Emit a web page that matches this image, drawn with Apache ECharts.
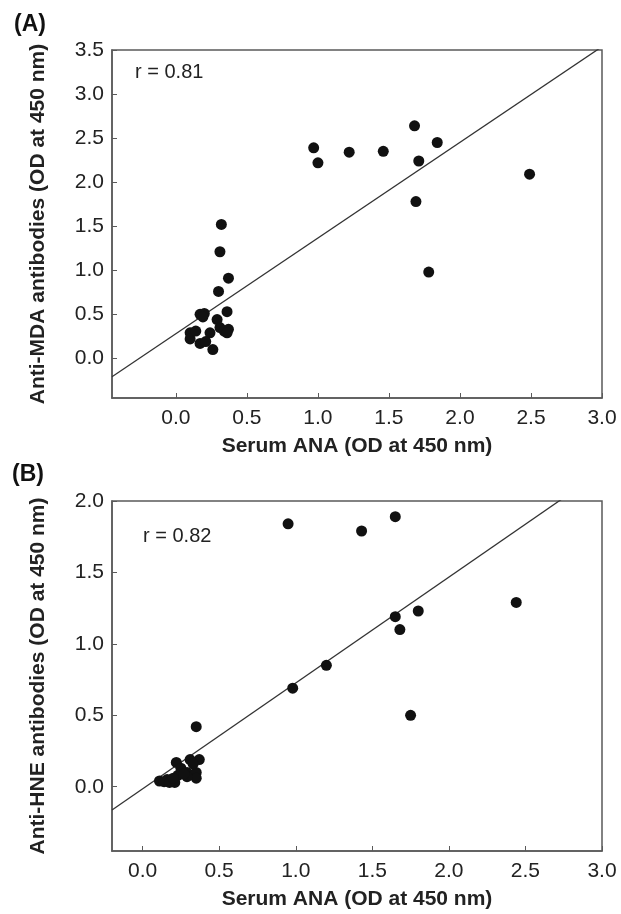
<!DOCTYPE html>
<html>
<head>
<meta charset="utf-8">
<script src="https://cdn.jsdelivr.net/npm/echarts@6/dist/echarts.min.js"></script>
<style>
  html, body { margin: 0; padding: 0; background: #fff; }
  #main { width: 621px; height: 914px; }
</style>
</head>
<body>
<div id="main"></div>
<script>
// panel A: serum ANA vs anti-MDA
var anaA = [1.68, 0.97, 1.00, 1.22, 1.46, 1.71, 1.84, 2.49, 1.69, 1.78,
            0.32, 0.31, 0.37, 0.30, 0.36,
            0.17, 0.20, 0.19, 0.29, 0.31, 0.34, 0.37, 0.36, 0.10, 0.10, 0.14, 0.24, 0.17, 0.21, 0.26];
var mda  = [2.64, 2.39, 2.22, 2.34, 2.35, 2.24, 2.45, 2.09, 1.78, 0.98,
            1.52, 1.21, 0.91, 0.76, 0.53,
            0.50, 0.51, 0.47, 0.44, 0.35, 0.31, 0.33, 0.29, 0.29, 0.22, 0.31, 0.29, 0.17, 0.19, 0.10];
// panel B: serum ANA vs anti-HNE
var anaB = [0.95, 1.43, 1.65, 2.44, 1.65, 1.80, 1.68, 1.20, 0.98, 1.75, 0.35,
            0.37, 0.31, 0.22, 0.25, 0.29, 0.35, 0.35, 0.29, 0.23, 0.19, 0.16, 0.11, 0.14, 0.21, 0.175, 0.33, 0.27, 0.20];
var hne  = [1.84, 1.79, 1.89, 1.29, 1.19, 1.23, 1.10, 0.85, 0.69, 0.50, 0.42,
            0.19, 0.19, 0.17, 0.13, 0.10, 0.10, 0.06, 0.07, 0.08, 0.05, 0.05, 0.04, 0.035, 0.03, 0.03, 0.16, 0.09, 0.06];
// fitted lines (intercept, slope)
var fitA = [0.28, 1.086];
var fitB = [-0.015, 0.741];

var ticksXA = [0, 0.5, 1.0, 1.5, 2.0, 2.5, 3.0];
var ticksYA = [0, 0.5, 1.0, 1.5, 2.0, 2.5, 3.0, 3.5];
var ticksXB = [0, 0.5, 1.0, 1.5, 2.0, 2.5, 3.0];
var ticksYB = [0, 0.5, 1.0, 1.5, 2.0];

function pairs(xs, ys) {
  return xs.map(function (x, i) { return [x, ys[i]]; });
}
function fitLine(fit, x0, x1) {
  return [[x0, fit[0] + fit[1] * x0], [x1, fit[0] + fit[1] * x1]];
}

var font = 'Liberation Sans, Arial, sans-serif';
var axisCol = '#5a5a5a';

function xAxis(idx, min, max, ticks) {
  return {
    type: 'value', gridIndex: idx, min: min, max: max,
    name: 'Serum ANA (OD at 450 nm)', nameLocation: 'middle', nameGap: 38,
    nameTextStyle: { fontFamily: font, fontSize: 21, fontWeight: 'bold', color: '#222' },
    axisLine: { show: true, onZero: false, lineStyle: { color: axisCol, width: 1.5 } },
    axisTick: { show: true, inside: true, length: 5, customValues: ticks, lineStyle: { color: axisCol } },
    axisLabel: { customValues: ticks, margin: 10, fontFamily: font, fontSize: 21, color: '#222',
                 formatter: function (v) { return v.toFixed(1); } },
    splitLine: { show: false }
  };
}
function yAxis(idx, min, max, ticks, name) {
  return {
    type: 'value', gridIndex: idx, min: min, max: max,
    name: name, nameLocation: 'middle', nameGap: 63,
    nameTextStyle: { fontFamily: font, fontSize: 21, fontWeight: 'bold', color: '#222' },
    axisLine: { show: true, onZero: false, lineStyle: { color: axisCol, width: 1.5 } },
    axisTick: { show: true, inside: true, length: 5, customValues: ticks, lineStyle: { color: axisCol } },
    axisLabel: { customValues: ticks, margin: 8, fontFamily: font, fontSize: 21, color: '#222',
                 formatter: function (v) { return v.toFixed(1); } },
    splitLine: { show: false }
  };
}

var chart = echarts.init(document.getElementById('main'));
chart.setOption({
  animation: false,
  backgroundColor: '#fff',
  grid: [
    { left: 112, top: 50, width: 490, height: 348, show: true, borderColor: axisCol, borderWidth: 1.5 },
    { left: 112, top: 501, width: 490, height: 350, show: true, borderColor: axisCol, borderWidth: 1.5 }
  ],
  xAxis: [xAxis(0, -0.45, 3.0, ticksXA), xAxis(1, -0.2, 3.0, ticksXB)],
  yAxis: [yAxis(0, -0.45, 3.5, ticksYA, 'Anti-MDA antibodies (OD at 450 nm)'),
          yAxis(1, -0.45, 2.0, ticksYB, 'Anti-HNE antibodies (OD at 450 nm)')],
  graphic: [
    { type: 'text', left: 14, top: 13, style: { text: '(A)', font: 'bold 23px ' + font, fill: '#111' } },
    { type: 'text', left: 12, top: 463, style: { text: '(B)', font: 'bold 23px ' + font, fill: '#111' } },
    { type: 'text', left: 135, top: 62, style: { text: 'r = 0.81', font: '20px ' + font, fill: '#222' } },
    { type: 'text', left: 143, top: 526, style: { text: 'r = 0.82', font: '20px ' + font, fill: '#222' } }
  ],
  series: [
    { type: 'line', xAxisIndex: 0, yAxisIndex: 0, data: fitLine(fitA, -0.45, 3.0), symbol: 'none',
      clip: true, lineStyle: { color: '#333', width: 1.3 }, z: 1 },
    { type: 'scatter', xAxisIndex: 0, yAxisIndex: 0, data: pairs(anaA, mda), symbolSize: 11,
      itemStyle: { color: '#111', opacity: 1 }, z: 2 },
    { type: 'line', xAxisIndex: 1, yAxisIndex: 1, data: fitLine(fitB, -0.2, 3.0), symbol: 'none',
      clip: true, lineStyle: { color: '#333', width: 1.3 }, z: 1 },
    { type: 'scatter', xAxisIndex: 1, yAxisIndex: 1, data: pairs(anaB, hne), symbolSize: 11,
      itemStyle: { color: '#111', opacity: 1 }, z: 2 }
  ]
});
</script>
</body>
</html>
